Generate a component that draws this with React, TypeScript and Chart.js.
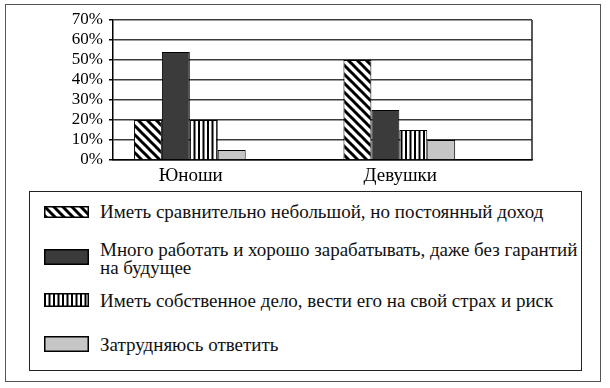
import { useEffect, useRef } from 'react';
import { Chart, registerables } from 'chart.js';

Chart.register(...registerables);

const categories = ['Юноши', 'Девушки'];
const seriesLabels = [
  'Иметь сравнительно небольшой, но постоянный доход',
  'Много работать и хорошо зарабатывать, даже без гарантий\nна будущее',
  'Иметь собственное дело, вести его на свой страх и риск',
  'Затрудняюсь ответить',
];
const stableIncome = [20, 50];
const hardWork = [54, 25];
const ownBusiness = [20, 15];
const hardToAnswer = [5, 10];
const yMax = 70;
const yStep = 10;

const FONT = '"Liberation Serif", "Times New Roman", serif';

type Kind = 'diag' | 'dark' | 'vert' | 'gray';
const kinds: Kind[] = ['diag', 'dark', 'vert', 'gray'];

function makeFill(ctx: CanvasRenderingContext2D, kind: Kind): string | CanvasPattern {
  if (kind === 'dark') return '#3b3b3b';
  if (kind === 'gray') return '#c6c6c6';
  const c = document.createElement('canvas');
  const s = 9;
  c.width = s;
  c.height = s;
  const g = c.getContext('2d')!;
  g.fillStyle = '#fff';
  g.fillRect(0, 0, s, s);
  g.fillStyle = '#000';
  g.strokeStyle = '#000';
  if (kind === 'diag') {
    g.lineWidth = 3;
    for (let k = -1; k <= 1; k++) {
      g.beginPath();
      g.moveTo(-1, k * s - 1);
      g.lineTo(s + 1, s + k * s + 1);
      g.stroke();
    }
  } else {
    g.fillRect(0, 0, 2, s);
    g.fillRect(4.5, 0, 2, s);
  }
  return ctx.createPattern(c, 'repeat')!;
}

function Swatch({ kind, w, h }: { kind: Kind; w: number; h: number }) {
  const ref = useRef<HTMLCanvasElement>(null);
  useEffect(() => {
    const cv = ref.current!;
    const ctx = cv.getContext('2d')!;
    ctx.clearRect(0, 0, w, h);
    ctx.fillStyle = makeFill(ctx, kind) as any;
    ctx.fillRect(0, 0, w, h);
    ctx.strokeStyle = '#000';
    ctx.lineWidth = 1.5;
    ctx.strokeRect(0.75, 0.75, w - 1.5, h - 1.5);
  }, [kind, w, h]);
  return <canvas ref={ref} width={w} height={h} style={{ display: 'block', width: w, height: h }} />;
}

const plotBorder = {
  id: 'plotBorder',
  afterDatasetsDraw(chart: any) {
    const { ctx, chartArea } = chart;
    ctx.save();
    ctx.strokeStyle = '#222';
    ctx.lineWidth = 1.5;
    ctx.beginPath();
    ctx.moveTo(chartArea.right, chartArea.top);
    ctx.lineTo(chartArea.right, chartArea.bottom);
    ctx.stroke();
    ctx.restore();
  },
};

export default function App() {
  const canvasRef = useRef<HTMLCanvasElement>(null);

  useEffect(() => {
    document.body.style.margin = '0';
    const cv = canvasRef.current!;
    const ctx = cv.getContext('2d')!;
    const values = [stableIncome, hardWork, ownBusiness, hardToAnswer];
    const datasets: any[] = values.map((data, i) => ({
      label: seriesLabels[i],
      data,
      backgroundColor: makeFill(ctx, kinds[i]),
      borderColor: '#000',
      borderWidth: 1,
    }));
    // two empty slots of the original grouping (no values)
    datasets.push({ label: '', data: categories.map(() => null) });
    datasets.push({ label: '', data: categories.map(() => null) });

    const chart = new Chart(cv, {
      type: 'bar',
      data: { labels: categories, datasets },
      plugins: [plotBorder],
      options: {
        animation: false,
        responsive: false,
        maintainAspectRatio: false,
        layout: { padding: { top: 20, right: 78, left: 0, bottom: 0 } },
        datasets: { bar: { categoryPercentage: 0.8, barPercentage: 1 } },
        plugins: { legend: { display: false }, tooltip: { enabled: false } },
        scales: {
          x: {
            grid: { display: false, drawTicks: false },
            border: { display: true, color: '#000', width: 1.5 },
            ticks: {
              color: '#000',
              font: { family: FONT, size: 19 },
              padding: 5,
              labelOffset: -27,
              maxRotation: 0,
            },
            afterFit: (s: any) => {
              s.height = 30;
            },
          },
          y: {
            min: 0,
            max: yMax,
            ticks: {
              stepSize: yStep,
              autoSkip: false,
              color: '#000',
              font: { family: FONT, size: 17, lineHeight: 1 },
              padding: 6,
              callback: (v: any) => v + '%',
            },
            grid: { color: '#3a3a3a', lineWidth: 1.5, tickLength: 4, tickColor: '#000' },
            border: { display: true, color: '#000', width: 1.5 },
            afterFit: (s: any) => {
              s.width = 113;
            },
          },
        },
      } as any,
    });
    return () => chart.destroy();
  }, []);

  const rows = [
    { kind: 'diag' as Kind, swTop: 206, swH: 12, textTop: 203 },
    { kind: 'dark' as Kind, swTop: 249, swH: 16, textTop: 241 },
    { kind: 'vert' as Kind, swTop: 293, swH: 14, textTop: 292 },
    { kind: 'gray' as Kind, swTop: 336, swH: 16, textTop: 336 },
  ];

  return (
    <div style={{ position: 'relative', width: 610, height: 388, background: '#fff', overflow: 'hidden' }}>
      <div
        style={{
          position: 'absolute',
          left: 5,
          top: 4,
          width: 596,
          height: 378,
          border: '1.5px solid #555',
          boxSizing: 'border-box',
        }}
      />
      <canvas
        ref={canvasRef}
        width={610}
        height={190}
        style={{ position: 'absolute', left: 0, top: 0, width: 610, height: 190 }}
      />
      <div
        style={{
          position: 'absolute',
          left: 29,
          top: 191,
          width: 553,
          height: 180,
          border: '1.5px solid #222',
          boxSizing: 'border-box',
        }}
      />
      {rows.map((r, i) => (
        <div key={i}>
          <div style={{ position: 'absolute', left: 44, top: r.swTop }}>
            <Swatch kind={r.kind} w={45} h={r.swH} />
          </div>
          <div
            style={{
              position: 'absolute',
              left: 100,
              top: r.textTop,
              fontFamily: FONT,
              fontSize: 19,
              lineHeight: '18px',
              color: '#111',
              whiteSpace: 'pre',
            }}
          >
            {seriesLabels[i]}
          </div>
        </div>
      ))}
    </div>
  );
}
